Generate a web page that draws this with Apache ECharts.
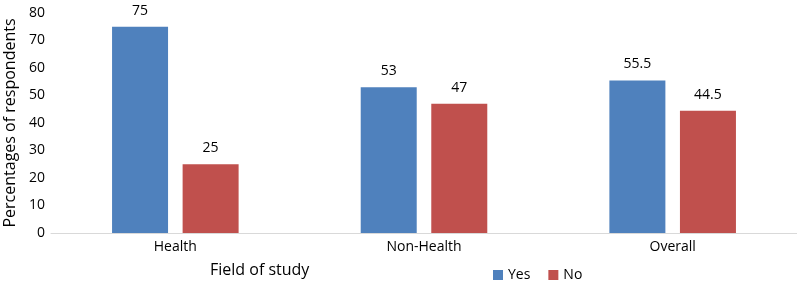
<!DOCTYPE html>
<html style="height: 100%">
<head>
<meta charset="utf-8">
<script src="https://cdn.jsdelivr.net/npm/echarts@6/dist/echarts.min.js"></script>
</head>
<body style="height: 100%; margin: 0">
<div id="container" style="width:797px;height:284px;"></div>
<script type="text/javascript">
var categories = ['Health', 'Non-Health', 'Overall'];
var yesValues = [75, 53, 55.5];
var noValues = [25, 47, 44.5];
var yTicks = [0, 80, 10];

var font = '"Open Sans", "Liberation Sans", sans-serif';
var chart = echarts.init(document.getElementById('container'));

var option = {
    animation: false,
    textStyle: { fontFamily: font, color: '#000' },
    grid: { left: 51, right: 0, top: 13, bottom: 51, outerBoundsMode: 'none', containLabel: false },
    legend: {
        data: ['Yes', 'No'],
        left: 488,
        top: 263,
        itemWidth: 10,
        itemHeight: 10,
        itemGap: 18,
        icon: 'rect',
        textStyle: { fontFamily: font, fontSize: 14, color: '#000' }
    },
    graphic: [{
        type: 'text',
        left: 210,
        top: 262,
        style: { text: 'Field of study', font: '16px ' + font, fill: '#000' }
    }],
    xAxis: {
        type: 'category',
        data: categories,
        axisLine: { lineStyle: { color: '#d9d9d9' } },
        axisTick: { show: false },
        axisLabel: { color: '#000', fontSize: 14, margin: 7, fontFamily: font }
    },
    yAxis: {
        type: 'value',
        min: yTicks[0],
        max: yTicks[1],
        interval: yTicks[2],
        name: 'Percentages of respondents',
        nameLocation: 'middle',
        nameGap: 31,
        nameTextStyle: { fontSize: 16, color: '#000', fontFamily: font },
        splitLine: { show: false },
        axisLine: { show: false },
        axisLabel: { color: '#000', fontSize: 14, margin: 6, fontFamily: font }
    },
    series: [
        {
            name: 'Yes',
            type: 'bar',
            data: yesValues,
            barWidth: 56,
            barGap: '26%',
            itemStyle: { color: '#4f81bd' },
            label: { show: true, position: 'top', distance: 9, color: '#000', fontSize: 14, fontFamily: font }
        },
        {
            name: 'No',
            type: 'bar',
            data: noValues,
            barWidth: 56,
            itemStyle: { color: '#c0504d' },
            label: { show: true, position: 'top', distance: 9, color: '#000', fontSize: 14, fontFamily: font }
        }
    ]
};
chart.setOption(option);
</script>
</body>
</html>
